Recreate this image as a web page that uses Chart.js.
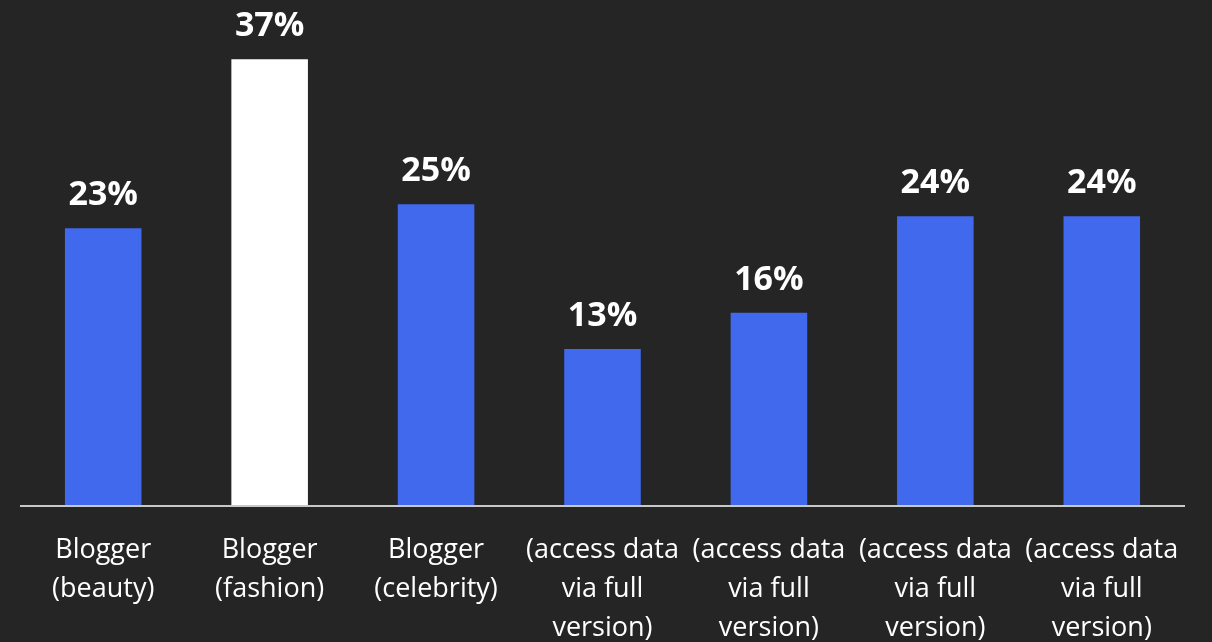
<!DOCTYPE html>
<html>
<head>
<meta charset="utf-8">
<script src="https://cdn.jsdelivr.net/npm/chart.js@4"></script>
<style>
html,body{margin:0;padding:0;background:#252525;}
canvas{display:block;}
</style>
</head>
<body>
<canvas id="c" width="1212" height="642"></canvas>
<script>
const categories = [
  ["Blogger", "(beauty)"],
  ["Blogger", "(fashion)"],
  ["Blogger", "(celebrity)"],
  ["(access data", "via full", "version)"],
  ["(access data", "via full", "version)"],
  ["(access data", "via full", "version)"],
  ["(access data", "via full", "version)"]
];
const values = [23, 37, 25, 13, 16, 24, 24];
const barColors = ["#4169ee", "#ffffff", "#4169ee", "#4169ee", "#4169ee", "#4169ee", "#4169ee"];

const FONT = "'Open Sans', 'Noto Sans', sans-serif";

const valueLabels = {
  id: 'valueLabels',
  afterDatasetsDraw(chart) {
    const ctx = chart.ctx;
    const meta = chart.getDatasetMeta(0);
    ctx.save();
    ctx.fillStyle = '#ffffff';
    ctx.font = "bold 34px " + FONT;
    ctx.textAlign = 'center';
    ctx.textBaseline = 'alphabetic';
    meta.data.forEach((bar, i) => {
      ctx.fillText(values[i] + '%', bar.x, bar.y - 23);
    });
    ctx.restore();
  }
};

const axisLine = {
  id: 'axisLine',
  afterDatasetsDraw(chart) {
    const ctx = chart.ctx;
    const y = chart.scales.y.getPixelForValue(0);
    ctx.save();
    ctx.strokeStyle = '#c8c8c8';
    ctx.lineWidth = 2;
    ctx.beginPath();
    ctx.moveTo(chart.chartArea.left, y);
    ctx.lineTo(chart.chartArea.right, y);
    ctx.stroke();
    ctx.restore();
  }
};

new Chart(document.getElementById('c'), {
  type: 'bar',
  data: {
    labels: categories,
    datasets: [{
      data: values,
      backgroundColor: barColors,
      borderWidth: 0,
      barPercentage: 0.46,
      categoryPercentage: 1.0
    }]
  },
  options: {
    responsive: false,
    animation: false,
    layout: { padding: { left: 20, right: 27, top: 23, bottom: 0 } },
    plugins: { legend: { display: false }, tooltip: { enabled: false } },
    scales: {
      x: {
        grid: { display: false },
        border: { display: false },
        ticks: {
          color: '#ffffff',
          font: { family: FONT, size: 27, lineHeight: 1.44 },
          padding: 17,
          maxRotation: 0,
          autoSkip: false
        },
        afterFit(scale) { scale.height = 136; }
      },
      y: {
        display: false,
        min: 0,
        max: 40
      }
    }
  },
  plugins: [valueLabels, axisLine]
});
</script>
</body>
</html>
